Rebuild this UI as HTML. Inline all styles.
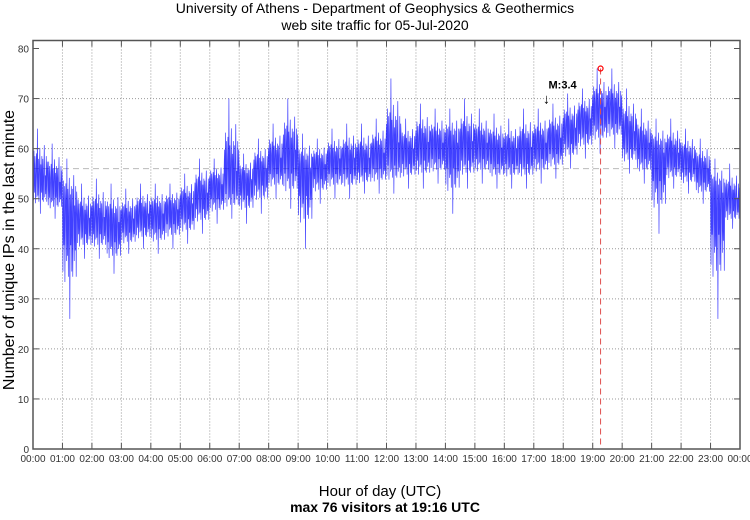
<!DOCTYPE html>
<html><head><meta charset="utf-8"><style>
body{margin:0;background:#fff;}
svg text{font-family:"Liberation Sans",sans-serif;}
</style></head><body>
<svg width="750" height="515" xmlns="http://www.w3.org/2000/svg">
<g id="root"></g>
</svg>
<script>
const hourLabels=["00:00","01:00","02:00","03:00","04:00","05:00","06:00","07:00","08:00","09:00","10:00","11:00","12:00","13:00","14:00","15:00","16:00","17:00","18:00","19:00","20:00","21:00","22:00","23:00","00:00"];
const yTicks=[0,10,20,30,40,50,60,70,80];
// 30-minute bins: mean, low, high
const binMean=[53,52,47,45,45,44,45,46,46,47,48,50,52,53,53,55,57,58,55,56,57,57,57,58,59,59,60,60,60,60,60,59,59,59,60,61,63,65,67,67,62,60,58,58,57,55,50,49];
const binLow=[47,46,26,38,38,35,39,40,39,40,41,43,45,46,45,47,50,48,40,49,50,50,51,51,51,52,52,53,47,52,53,52,52,52,53,54,56,58,59,60,55,53,43,52,51,49,26,44];
const binHigh=[64,61,58,53,54,53,52,53,53,53,55,58,58,70,59,62,65,70,63,62,64,65,65,66,74,66,69,68,68,70,68,67,66,68,68,69,71,72,76,76,72,68,66,66,64,62,58,57];
const pattern=[0.4,-0.55,0.6,-0.3,0.5,-0.65,0.25,0.55,-0.45,1,-0.4,0.45,-0.6,0.3,0.65,-1,0.35,-0.3,0.5,-0.55,0.45,-0.6,0.2,0.7,-0.45,0.15,-0.35,0.5,-0.6,0.4];
const meanLine=56, maxVal=76, maxMinute=19*60+16, quakeMinute=17*60+30, quakeLabel="M:3.4";

const L=33,R=740,T=48.5,B=449;
const xs=m=>L+(R-L)*m/1440;
const ys=v=>B-(B-T)*v/80;
const NS="http://www.w3.org/2000/svg";
const root=document.getElementById('root');
function mk(tag,attrs,name,text){const e=document.createElementNS(NS,tag);for(const k in attrs)e.setAttribute(k,attrs[k]);


if(text!==undefined)e.textContent=text;root.appendChild(e);return e;}

yTicks.forEach(v=>{if(v>0&&v<80)mk('line',{x1:L,x2:R,y1:ys(v),y2:ys(v),stroke:'#999','stroke-dasharray':'1,2','stroke-width':1},'y-grid-line');});
hourLabels.forEach((h,i)=>{const x=xs(i*60);if(i>0&&i<24)mk('line',{x1:x,x2:x,y1:T-8,y2:B,stroke:'#999','stroke-dasharray':'1,2','stroke-width':1},'x-grid-line');});
mk('line',{x1:L,x2:R,y1:ys(meanLine),y2:ys(meanLine),stroke:'#bbb','stroke-dasharray':'6,4','stroke-width':1},'mean-line');
let d='';
for(let m=0;m<1440;m++){const b=Math.floor(m/30),p=pattern[m%30];
const v=p>0?binMean[b]+p*(binHigh[b]-binMean[b]):binMean[b]+p*(binMean[b]-binLow[b]);
d+=(m?'L':'M')+xs(m).toFixed(2)+','+ys(v).toFixed(2);}
mk('path',{d:d,fill:'none',stroke:'rgba(0,0,255,0.75)','stroke-width':0.7},'traffic-series');
mk('line',{x1:xs(maxMinute),x2:xs(maxMinute),y1:ys(maxVal),y2:B,stroke:'#e05050','stroke-dasharray':'6,4','stroke-width':1},'max-time-line');
mk('circle',{cx:xs(maxMinute),cy:ys(maxVal),r:2.5,fill:'none',stroke:'red','stroke-width':1.2},'max-marker');
mk('text',{x:xs(quakeMinute),y:ys(72),'font-size':11,'font-weight':'bold','text-anchor':'start'},'quake-label',quakeLabel);
mk('text',{x:xs(quakeMinute)-2,y:ys(69),'font-size':14,'text-anchor':'middle'},'quake-arrow','↓');
mk('rect',{x:L,y:T-8,width:R-L,height:B-T+8,fill:'none',stroke:'#555','stroke-width':1.5},'plot-frame');
yTicks.forEach(v=>{
mk('line',{x1:L,x2:L+6,y1:ys(v),y2:ys(v),stroke:'#555'},'y-tick');
mk('line',{x1:R-6,x2:R,y1:ys(v),y2:ys(v),stroke:'#555'},'y-tick-right');
mk('text',{x:L-4,y:ys(v)+4,'font-size':10,'text-anchor':'end',fill:'#333'},'y-tick-label',String(v));});
hourLabels.forEach((h,i)=>{const x=xs(i*60);
mk('line',{x1:x,x2:x,y1:B,y2:B-6,stroke:'#555'},'x-tick');
mk('line',{x1:x,x2:x,y1:T-8,y2:T-2,stroke:'#555'},'x-tick-top');
mk('text',{x:x,y:B+13,'font-size':10,'text-anchor':'middle',fill:'#333'},'x-tick-label',h);});
mk('text',{x:375,y:13,'font-size':14,'text-anchor':'middle'},'chart-title','University of Athens - Department of Geophysics & Geothermics');
mk('text',{x:375,y:30,'font-size':14,'text-anchor':'middle'},'chart-subtitle','web site traffic for 05-Jul-2020');
mk('text',{x:380,y:496,'font-size':15,'text-anchor':'middle'},'x-axis-title','Hour of day (UTC)');
mk('text',{x:385,y:512,'font-size':14,'font-weight':'bold','text-anchor':'middle'},'max-summary','max 76 visitors at 19:16 UTC');
mk('text',{x:14,y:250,'font-size':16,'text-anchor':'middle',transform:'rotate(-90 14 250)'},'y-axis-title','Number of unique IPs in the last minute');
</script>
</body></html>
